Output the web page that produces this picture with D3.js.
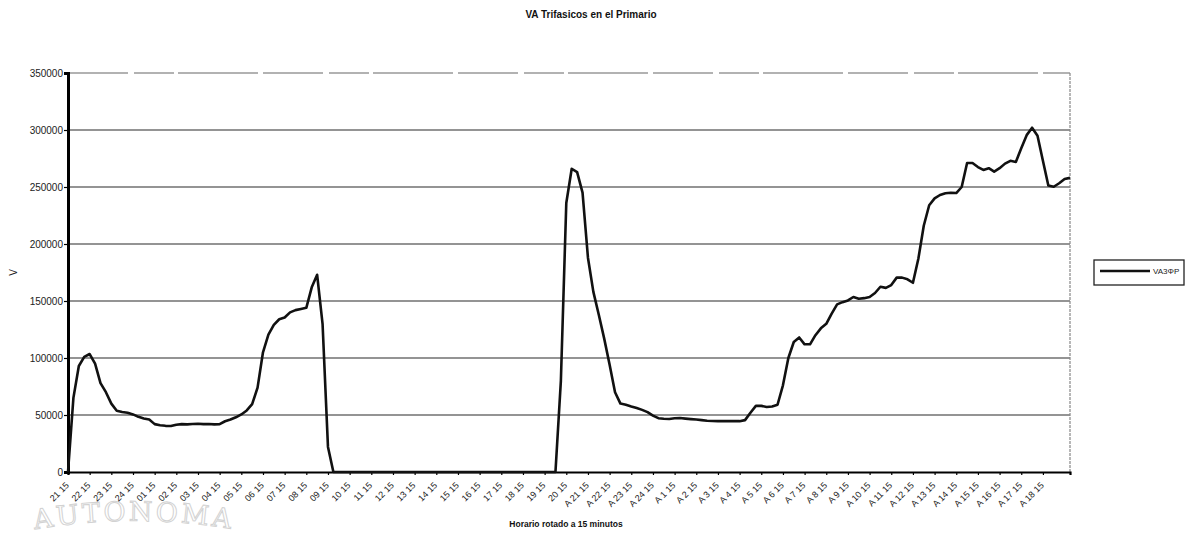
<!DOCTYPE html>
<html>
<head>
<meta charset="utf-8">
<script src="https://cdn.jsdelivr.net/npm/d3@7"></script>
<style>
  html, body { margin: 0; padding: 0; background: #fff; }
  svg { display: block; font-family: "Liberation Sans", Arial, sans-serif; }
</style>
</head>
<body>
<svg id="chart" width="1193" height="534"></svg>
<script>
// Hour labels shown on the category axis (one every four 15-minute readings)
const hourLabels = [
  "21 15", "22 15", "23 15", "24 15", "01 15", "02 15", "03 15", "04 15",
  "05 15", "06 15", "07 15", "08 15", "09 15", "10 15", "11 15", "12 15",
  "13 15", "14 15", "15 15", "16 15", "17 15", "18 15", "19 15", "20 15",
  "A 21 15", "A 22 15", "A 23 15", "A 24 15", "A 1 15", "A 2 15", "A 3 15",
  "A 4 15", "A 5 15", "A 6 15", "A 7 15", "A 8 15", "A 9 15", "A 10 15",
  "A 11 15", "A 12 15", "A 13 15", "A 14 15", "A 15 15", "A 16 15",
  "A 17 15", "A 18 15"
];

// Three-phase apparent power on the primary, one reading every 15 minutes
const va3pValues = [
  0, 65000, 93000, 101000, 103500, 95000, 78000, 70000, 60000, 53800,
  52700, 52000, 50500, 48400, 47000, 46000, 42000, 41000, 40500, 40300,
  41500, 42000, 41800, 42100, 42300, 42000, 42100, 41800, 42000, 44500,
  46000, 48000, 50500, 54000, 59500, 74000, 105000, 120500, 129000, 134000,
  135500, 140000, 142000, 143000, 144000, 162000, 173000, 130000, 22000, 0,
  0, 0, 0, 0, 0, 0, 0, 0, 0, 0,
  0, 0, 0, 0, 0, 0, 0, 0, 0, 0,
  0, 0, 0, 0, 0, 0, 0, 0, 0, 0,
  0, 0, 0, 0, 0, 0, 0, 0, 0, 0,
  0, 80000, 236000, 266000, 263000, 245000, 188000, 158000, 138000, 117000,
  94000, 70000, 60000, 59000, 57500, 56200, 54500, 52500, 49500, 47200,
  46700, 46500, 47200, 47300, 46800, 46400, 46000, 45500, 45000, 44700,
  44600, 44700, 44600, 44700, 44600, 45500, 52000, 58000, 58000, 57000,
  57500, 59000, 76000, 100000, 114000, 118000, 112000, 112000, 120000, 126000,
  130000, 139000, 147000, 149000, 150500, 153500, 152000, 152500, 153500, 157000,
  162500, 161500, 164000, 170500, 170500, 169000, 166000, 187000, 216000, 234000,
  240000, 243000, 244500, 245000, 244700, 250000, 271000, 271000, 267500, 265000,
  266500, 263500, 266500, 270500, 273000, 272000, 284000, 295500, 302000, 295000,
  273000, 251300, 250200, 253300, 257000, 258000
];

const yTickValues = [0, 50000, 100000, 150000, 200000, 250000, 300000, 350000];
const readingsPerLabel = 4;

const svg = d3.select("#chart");
const plot = { left: 68, right: 1070, top: 73, bottom: 472 };

const x = d3.scaleLinear()
  .domain([0, va3pValues.length - 1])
  .range([plot.left, plot.right]);

const y = d3.scaleLinear()
  .domain([0, 350000])
  .range([plot.bottom, plot.top]);

// Faint seal lettering along a wide arc in the lower-left corner
const sealR = 600, sealCx = 134, sealCy = 521 + sealR;
const seal = svg.append("g");
seal.append("path")
  .attr("id", "sealArc")
  .attr("fill", "none")
  .attr("d", `M${sealCx - sealR},${sealCy} A${sealR},${sealR} 0 0 1 ${sealCx + sealR},${sealCy}`);
seal.append("text")
  .attr("font-family", "'DejaVu Serif', 'Liberation Serif', serif")
  .attr("font-size", 27)
  .attr("letter-spacing", 3)
  .attr("fill", "none")
  .attr("stroke", "#d2d2d2")
  .attr("stroke-width", 1)
  .append("textPath")
  .attr("href", "#sealArc")
  .attr("startOffset", "50%")
  .attr("text-anchor", "middle")
  .text("AUTONOMA");

// Title
svg.append("text")
  .attr("x", 591).attr("y", 18)
  .attr("text-anchor", "middle")
  .attr("font-size", 10).attr("font-weight", "bold")
  .attr("fill", "#111")
  .text("VA Trifasicos en el Primario");

// Horizontal gridlines
svg.append("g")
  .selectAll("line")
  .data(yTickValues.filter(v => v > 0 && v < 350000))
  .join("line")
  .attr("x1", plot.left).attr("x2", plot.right)
  .attr("y1", d => y(d)).attr("y2", d => y(d))
  .attr("stroke", "#2a2a2a").attr("stroke-width", 1.1);

// Plot frame: top and right edges
svg.append("line")
  .attr("x1", plot.left).attr("x2", plot.right)
  .attr("y1", y(350000)).attr("y2", y(350000))
  .attr("stroke", "#666").attr("stroke-width", 1.2)
  .attr("stroke-dasharray", "60 6 40 4 80 5");
svg.append("line")
  .attr("x1", plot.right).attr("x2", plot.right)
  .attr("y1", plot.top).attr("y2", plot.bottom)
  .attr("stroke", "#888").attr("stroke-width", 1.2)
  .attr("stroke-dasharray", "3 1");

// Value axis
const yAxis = svg.append("g")
  .attr("transform", `translate(${plot.left},0)`)
  .call(d3.axisLeft(y).tickValues(yTickValues).tickSize(4).tickFormat(d3.format("d")));
yAxis.select(".domain").attr("stroke", "#000").attr("stroke-width", 3);
yAxis.selectAll(".tick line").attr("stroke", "#000").attr("stroke-width", 1.2);
yAxis.selectAll(".tick text")
  .attr("font-size", 10).attr("fill", "#222")
  .attr("font-family", "'Liberation Sans', Arial, sans-serif")
  .attr("x", -5);

svg.append("text")
  .attr("transform", `translate(17,${y(175000)}) rotate(-90)`)
  .attr("text-anchor", "middle")
  .attr("font-size", 10).attr("fill", "#222")
  .text("V");

// Category axis: ticks every hour
const tickIdx = hourLabels.map((_, i) => i * readingsPerLabel);
const xAxis = svg.append("g")
  .attr("transform", `translate(0,${plot.bottom})`)
  .call(d3.axisBottom(x).tickValues(tickIdx).tickSize(3).tickFormat(d => hourLabels[d / readingsPerLabel]));
xAxis.select(".domain").attr("stroke", "#000").attr("stroke-width", 2.2);
xAxis.selectAll(".tick line").attr("stroke", "#000").attr("stroke-width", 1.2);
xAxis.selectAll(".tick text")
  .attr("font-size", 9).attr("fill", "#222")
  .attr("font-family", "'Liberation Sans', Arial, sans-serif")
  .attr("text-anchor", "end")
  .attr("dy", null)
  .attr("y", 0)
  .attr("transform", "translate(1,14) rotate(-45)");

svg.append("text")
  .attr("x", 566).attr("y", 527)
  .attr("text-anchor", "middle")
  .attr("font-size", 8.5).attr("font-weight", "bold")
  .attr("fill", "#111")
  .text("Horario rotado a 15 minutos");

// Series line
const line = d3.line()
  .x((d, i) => x(i))
  .y(d => y(d));
svg.append("path")
  .datum(va3pValues)
  .attr("fill", "none")
  .attr("stroke", "#111")
  .attr("stroke-width", 2.6)
  .attr("stroke-linejoin", "round")
  .attr("d", line);

// Legend
const legend = svg.append("g").attr("transform", "translate(1094,260)");
legend.append("rect")
  .attr("x", 0).attr("y", 0).attr("width", 90).attr("height", 25)
  .attr("fill", "#fff").attr("stroke", "#222").attr("stroke-width", 1.3);
legend.append("line")
  .attr("x1", 6).attr("x2", 56).attr("y1", 11).attr("y2", 11)
  .attr("stroke", "#111").attr("stroke-width", 2.6);
legend.append("text")
  .attr("x", 59).attr("y", 14)
  .attr("font-size", 8).attr("fill", "#222")
  .text("VA3ΦP");
</script>
</body>
</html>
